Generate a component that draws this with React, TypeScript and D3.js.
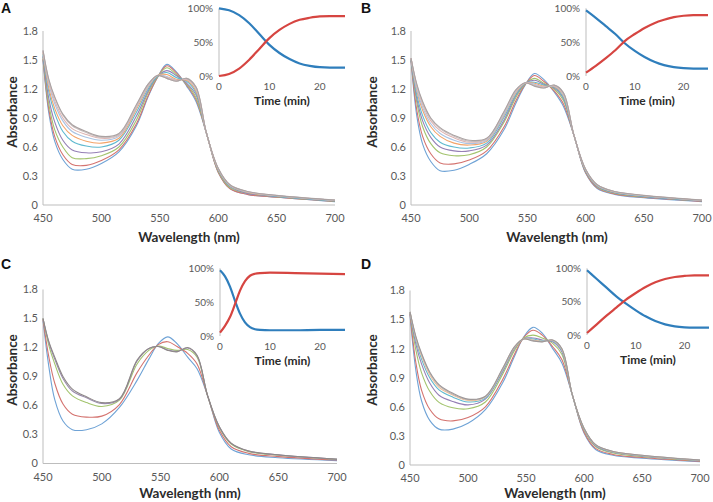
import React from 'react';
import * as d3 from 'd3';

// shared axes
const WAVELENGTHS = [450, 455, 460, 467, 475, 487, 500, 515, 530, 540, 548, 556, 564, 573, 581, 590, 600, 610, 625, 650, 700];
const ABS_TICKS = [0, 0.3, 0.6, 0.9, 1.2, 1.5, 1.8];
const WL_TICKS = [450, 500, 550, 600, 650, 700];
const TIME_TICKS = [0, 10, 20];
const PCT_TICKS = [0, 50, 100];

// panel A spectra (first = t0, last = end)
const spectraA = [
  [1.50, 0.95, 0.66, 0.47, 0.37, 0.37, 0.43, 0.55, 0.82, 1.12, 1.32, 1.455, 1.38, 1.23, 1.07, 0.74, 0.34, 0.17, 0.11, 0.08, 0.035],
  [1.51, 0.99, 0.71, 0.52, 0.42, 0.41, 0.46, 0.57, 0.84, 1.13, 1.32, 1.44, 1.37, 1.24, 1.09, 0.74, 0.34, 0.17, 0.11, 0.08, 0.037],
  [1.53, 1.04, 0.78, 0.60, 0.49, 0.48, 0.51, 0.60, 0.88, 1.16, 1.325, 1.42, 1.35, 1.25, 1.11, 0.74, 0.35, 0.18, 0.12, 0.085, 0.039],
  [1.54, 1.10, 0.86, 0.67, 0.57, 0.54, 0.55, 0.63, 0.92, 1.18, 1.33, 1.39, 1.34, 1.26, 1.14, 0.74, 0.36, 0.19, 0.12, 0.089, 0.041],
  [1.56, 1.17, 0.95, 0.76, 0.66, 0.61, 0.60, 0.67, 0.96, 1.20, 1.33, 1.37, 1.32, 1.28, 1.16, 0.74, 0.365, 0.195, 0.13, 0.092, 0.044],
  [1.58, 1.21, 1.00, 0.82, 0.72, 0.66, 0.64, 0.69, 0.99, 1.22, 1.34, 1.35, 1.30, 1.29, 1.18, 0.74, 0.37, 0.20, 0.13, 0.095, 0.046],
  [1.59, 1.25, 1.05, 0.87, 0.76, 0.70, 0.67, 0.71, 1.01, 1.23, 1.34, 1.33, 1.29, 1.30, 1.20, 0.74, 0.374, 0.204, 0.135, 0.097, 0.048],
  [1.59, 1.27, 1.08, 0.90, 0.79, 0.73, 0.69, 0.72, 1.02, 1.24, 1.34, 1.32, 1.29, 1.30, 1.21, 0.74, 0.377, 0.207, 0.138, 0.098, 0.049],
  [1.60, 1.29, 1.11, 0.93, 0.82, 0.75, 0.70, 0.73, 1.03, 1.25, 1.34, 1.31, 1.28, 1.31, 1.22, 0.74, 0.379, 0.209, 0.139, 0.099, 0.05],
  [1.60, 1.30, 1.12, 0.94, 0.83, 0.76, 0.71, 0.74, 1.04, 1.25, 1.34, 1.31, 1.28, 1.31, 1.22, 0.74, 0.38, 0.21, 0.14, 0.10, 0.05],
];

const spectraB = [
  [1.50, 0.92, 0.63, 0.45, 0.355, 0.36, 0.42, 0.53, 0.78, 1.05, 1.24, 1.36, 1.30, 1.17, 1.02, 0.72, 0.33, 0.17, 0.11, 0.075, 0.035],
  [1.50, 0.98, 0.71, 0.53, 0.435, 0.425, 0.465, 0.56, 0.81, 1.075, 1.245, 1.34, 1.28, 1.18, 1.045, 0.72, 0.337, 0.177, 0.115, 0.08, 0.038],
  [1.51, 1.06, 0.81, 0.635, 0.54, 0.51, 0.52, 0.60, 0.86, 1.11, 1.25, 1.31, 1.26, 1.20, 1.08, 0.72, 0.346, 0.186, 0.122, 0.085, 0.041],
  [1.51, 1.10, 0.87, 0.70, 0.60, 0.56, 0.56, 0.62, 0.88, 1.13, 1.255, 1.29, 1.25, 1.21, 1.10, 0.72, 0.352, 0.192, 0.127, 0.089, 0.043],
  [1.51, 1.14, 0.925, 0.75, 0.65, 0.60, 0.59, 0.64, 0.91, 1.14, 1.257, 1.27, 1.24, 1.22, 1.11, 0.72, 0.357, 0.197, 0.13, 0.092, 0.045],
  [1.52, 1.18, 0.98, 0.81, 0.71, 0.64, 0.62, 0.66, 0.93, 1.16, 1.26, 1.26, 1.23, 1.225, 1.13, 0.72, 0.362, 0.202, 0.134, 0.095, 0.047],
  [1.52, 1.20, 1.01, 0.84, 0.74, 0.67, 0.635, 0.67, 0.94, 1.17, 1.262, 1.25, 1.22, 1.23, 1.14, 0.72, 0.364, 0.204, 0.136, 0.096, 0.048],
  [1.52, 1.23, 1.04, 0.87, 0.77, 0.695, 0.65, 0.68, 0.96, 1.18, 1.263, 1.24, 1.22, 1.235, 1.15, 0.72, 0.367, 0.207, 0.138, 0.098, 0.049],
  [1.52, 1.24, 1.06, 0.89, 0.79, 0.71, 0.66, 0.685, 0.96, 1.185, 1.264, 1.235, 1.21, 1.24, 1.16, 0.72, 0.369, 0.209, 0.139, 0.099, 0.05],
  [1.52, 1.25, 1.07, 0.90, 0.80, 0.72, 0.67, 0.69, 0.97, 1.19, 1.265, 1.23, 1.21, 1.24, 1.16, 0.72, 0.37, 0.21, 0.14, 0.10, 0.05],
];

const spectraC = [
  [1.48, 1.00, 0.66, 0.44, 0.35, 0.35, 0.41, 0.58, 0.86, 1.08, 1.24, 1.31, 1.24, 1.10, 0.98, 0.70, 0.32, 0.15, 0.09, 0.06, 0.03],
  [1.49, 1.10, 0.83, 0.615, 0.51, 0.48, 0.49, 0.61, 0.94, 1.12, 1.23, 1.26, 1.21, 1.14, 1.03, 0.70, 0.343, 0.173, 0.105, 0.071, 0.036],
  [1.50, 1.22, 1.03, 0.82, 0.70, 0.63, 0.59, 0.655, 1.03, 1.17, 1.215, 1.19, 1.17, 1.18, 1.10, 0.70, 0.37, 0.20, 0.123, 0.085, 0.042],
  [1.50, 1.25, 1.08, 0.88, 0.75, 0.68, 0.62, 0.665, 1.06, 1.19, 1.21, 1.175, 1.16, 1.195, 1.115, 0.70, 0.378, 0.208, 0.128, 0.089, 0.044],
  [1.50, 1.26, 1.10, 0.90, 0.77, 0.69, 0.63, 0.67, 1.07, 1.19, 1.21, 1.17, 1.155, 1.20, 1.12, 0.70, 0.38, 0.21, 0.13, 0.09, 0.045],
];

const spectraD = [
  [1.55, 0.98, 0.66, 0.46, 0.37, 0.37, 0.43, 0.57, 0.85, 1.12, 1.32, 1.42, 1.36, 1.20, 1.05, 0.72, 0.33, 0.16, 0.10, 0.07, 0.035],
  [1.56, 1.06, 0.77, 0.575, 0.476, 0.455, 0.49, 0.60, 0.885, 1.14, 1.315, 1.39, 1.34, 1.22, 1.085, 0.72, 0.341, 0.171, 0.109, 0.077, 0.038],
  [1.57, 1.19, 0.95, 0.76, 0.646, 0.59, 0.58, 0.65, 0.94, 1.18, 1.31, 1.34, 1.31, 1.254, 1.14, 0.72, 0.36, 0.19, 0.124, 0.088, 0.044],
  [1.57, 1.25, 1.04, 0.845, 0.72, 0.655, 0.62, 0.68, 0.965, 1.20, 1.305, 1.31, 1.29, 1.27, 1.165, 0.72, 0.368, 0.198, 0.131, 0.093, 0.047],
  [1.58, 1.29, 1.09, 0.90, 0.775, 0.70, 0.65, 0.69, 0.98, 1.21, 1.302, 1.30, 1.28, 1.28, 1.18, 0.72, 0.374, 0.204, 0.135, 0.096, 0.048],
  [1.58, 1.31, 1.12, 0.93, 0.80, 0.72, 0.665, 0.70, 0.99, 1.214, 1.301, 1.29, 1.275, 1.285, 1.19, 0.72, 0.377, 0.207, 0.138, 0.098, 0.049],
  [1.58, 1.32, 1.14, 0.95, 0.82, 0.73, 0.675, 0.705, 0.995, 1.218, 1.30, 1.283, 1.272, 1.288, 1.197, 0.72, 0.379, 0.209, 0.139, 0.099, 0.05],
  [1.58, 1.33, 1.15, 0.96, 0.83, 0.74, 0.68, 0.71, 1.00, 1.22, 1.30, 1.28, 1.27, 1.29, 1.20, 0.72, 0.38, 0.21, 0.14, 0.10, 0.05],
];

// insets: % unreacted (blue) and % product (red) vs time (min)
const timeAB = [0, 2, 4, 6, 8, 10, 12, 14, 16, 18, 20, 22, 25];
const timeC = [0, 1, 2, 3, 4, 5, 6, 7, 8, 10, 15, 20, 25];
const blueA = [100, 97, 90, 78, 62, 46, 34, 25, 18.5, 15, 13, 12.5, 12.5];
const redA = [0, 3, 11, 24, 40, 56, 68, 77, 83, 86, 88, 88.5, 88.5];
const blueB = [97, 86, 74, 62, 48, 37, 28, 21, 16, 13, 11.5, 11, 11];
const redB = [5, 15, 26, 38, 52, 62, 71, 78, 83, 87, 89, 90, 90];
const blueC = [97, 88, 73, 52, 33, 20, 13, 10, 9, 8.5, 8.5, 9, 9];
const redC = [5, 15, 28, 47, 67, 81, 89, 92, 93, 93.5, 93, 92, 91.5];
const blueD = [97, 84, 71, 58, 47, 37, 28, 21, 16, 13, 11.5, 11, 11];
const redD = [3, 16, 29, 41, 53, 63, 72, 79, 84, 87, 88.5, 89.5, 89.5];

const coloursLong = ['#6fa3d6', '#d4736f', '#a3c46e', '#9680b6', '#5fb9cf', '#f3a469', '#a9c3e3', '#deb4b2', '#c9bfbf', '#aaa2a2'];
const coloursC = ['#6fa3d6', '#d4736f', '#a3c46e', '#9a8cad', '#8e8888'];
const coloursD = ['#6fa3d6', '#d4736f', '#a3c46e', '#9680b6', '#5fb9cf', '#f0c09a', '#bdb5b5', '#9e9898'];

const FONT = 'Lato, "Open Sans", sans-serif';
const AXIS = '#bdbdbd';
const TICK_TXT = '#595959';
const TITLE_TXT = '#2b2b2b';

type Box = { x0: number; x1: number; yb: number; yt: number };
type PanelProps = {
  letter: string;
  letterPos: [number, number];
  spectra: number[][];
  colours: string[];
  main: Box;
  inset: Box;
  time: number[];
  blue: number[];
  red: number[];
  xTitle: [number, number];
  yTitle: [number, number];
};

function Panel(p: PanelProps) {
  const x = d3.scaleLinear().domain([450, 700]).range([p.main.x0, p.main.x1]);
  const y = d3.scaleLinear().domain([0, 1.8]).range([p.main.yb, p.main.yt]);
  const spec = d3
    .line<number>()
    .x((_, i) => x(WAVELENGTHS[i]))
    .y((v) => y(v))
    .curve(d3.curveCatmullRom.alpha(0.5));

  const tx = d3.scaleLinear().domain([0, 25]).range([p.inset.x0, p.inset.x1]);
  const ty = d3.scaleLinear().domain([0, 100]).range([p.inset.yb, p.inset.yt]);
  const kin = d3
    .line<number>()
    .x((_, i) => tx(p.time[i]))
    .y((v) => ty(v))
    .curve(d3.curveMonotoneX);

  return (
    <g fontFamily={FONT}>
      <text x={p.letterPos[0]} y={p.letterPos[1]} fontFamily="Liberation Sans, Arial, sans-serif" fontWeight="bold" fontSize={14} fill="#111">
        {p.letter}
      </text>

      {/* main axes */}
      <line x1={p.main.x0} x2={p.main.x0} y1={p.main.yt} y2={p.main.yb} stroke={AXIS} />
      <line x1={p.main.x0} x2={p.main.x1} y1={p.main.yb} y2={p.main.yb} stroke={AXIS} />
      {ABS_TICKS.map((t) => (
        <text key={'y' + t} x={p.main.x0 - 5} y={y(t)} dy="0.35em" textAnchor="end" fontSize={11} fill={TICK_TXT}>
          {t === 0 ? '0' : t.toFixed(1)}
        </text>
      ))}
      {WL_TICKS.map((t) => (
        <text key={'x' + t} x={x(t)} y={p.main.yb + 17} textAnchor="middle" fontSize={11} fill={TICK_TXT}>
          {t}
        </text>
      ))}
      {p.spectra.map((s, i) => (
        <path key={i} d={spec(s) || ''} fill="none" stroke={p.colours[i]} strokeWidth={1.1} />
      ))}
      <text x={p.xTitle[0]} y={p.xTitle[1]} textAnchor="middle" fontWeight="bold" fontSize={13.5} fill={TITLE_TXT}>
        Wavelength (nm)
      </text>
      <text
        transform={`translate(${p.yTitle[0]},${p.yTitle[1]}) rotate(-90)`}
        textAnchor="middle"
        dy="0.35em"
        fontWeight="bold"
        fontSize={13.5}
        fill={TITLE_TXT}
      >
        Absorbance
      </text>

      {/* inset */}
      <line x1={p.inset.x0} x2={p.inset.x0} y1={p.inset.yt} y2={p.inset.yb} stroke={AXIS} />
      {PCT_TICKS.map((t) => (
        <text key={'p' + t} x={p.inset.x0 - 6} y={ty(t)} dy="0.35em" textAnchor="end" fontSize={10} fill={TICK_TXT}>
          {t + '%'}
        </text>
      ))}
      {TIME_TICKS.map((t) => (
        <text key={'t' + t} x={tx(t)} y={p.inset.yb + 14} textAnchor="middle" fontSize={10} fill={TICK_TXT}>
          {t}
        </text>
      ))}
      <path d={kin(p.blue) || ''} fill="none" stroke="#2f7ebc" strokeWidth={2.2} />
      <path d={kin(p.red) || ''} fill="none" stroke="#d64541" strokeWidth={2.2} />
      <text x={(p.inset.x0 + p.inset.x1) / 2} y={p.inset.yb + 29} textAnchor="middle" fontWeight="bold" fontSize={12} fill={TITLE_TXT}>
        Time (min)
      </text>
    </g>
  );
}

export default function App() {
  return (
    <svg
      width={713}
      height={502}
      viewBox="0 0 713 502"
      style={{ position: 'absolute', left: 0, top: 0, background: '#fff' }}
    >
      <Panel
        letter="A"
        letterPos={[1, 13]}
        spectra={spectraA}
        colours={coloursLong}
        main={{ x0: 43, x1: 335, yb: 205, yt: 31 }}
        inset={{ x0: 219, x1: 345, yb: 76, yt: 8.3 }}
        time={timeAB}
        blue={blueA}
        red={redA}
        xTitle={[189, 242]}
        yTitle={[12, 112]}
      />
      <Panel
        letter="B"
        letterPos={[361, 13]}
        spectra={spectraB}
        colours={coloursLong}
        main={{ x0: 411, x1: 702, yb: 205, yt: 31 }}
        inset={{ x0: 586, x1: 708, yb: 76, yt: 8.3 }}
        time={timeAB}
        blue={blueB}
        red={redB}
        xTitle={[557, 242]}
        yTitle={[372, 112]}
      />
      <Panel
        letter="C"
        letterPos={[1, 269]}
        spectra={spectraC}
        colours={coloursC}
        main={{ x0: 43, x1: 337, yb: 463.5, yt: 289.5 }}
        inset={{ x0: 220, x1: 345, yb: 336, yt: 268.3 }}
        time={timeC}
        blue={blueC}
        red={redC}
        xTitle={[190, 498]}
        yTitle={[12, 370]}
      />
      <Panel
        letter="D"
        letterPos={[361, 269]}
        spectra={spectraD}
        colours={coloursD}
        main={{ x0: 410, x1: 700, yb: 465, yt: 290.5 }}
        inset={{ x0: 587, x1: 709, yb: 335, yt: 268.3 }}
        time={timeAB}
        blue={blueD}
        red={redD}
        xTitle={[555, 498]}
        yTitle={[372, 370]}
      />
    </svg>
  );
}
